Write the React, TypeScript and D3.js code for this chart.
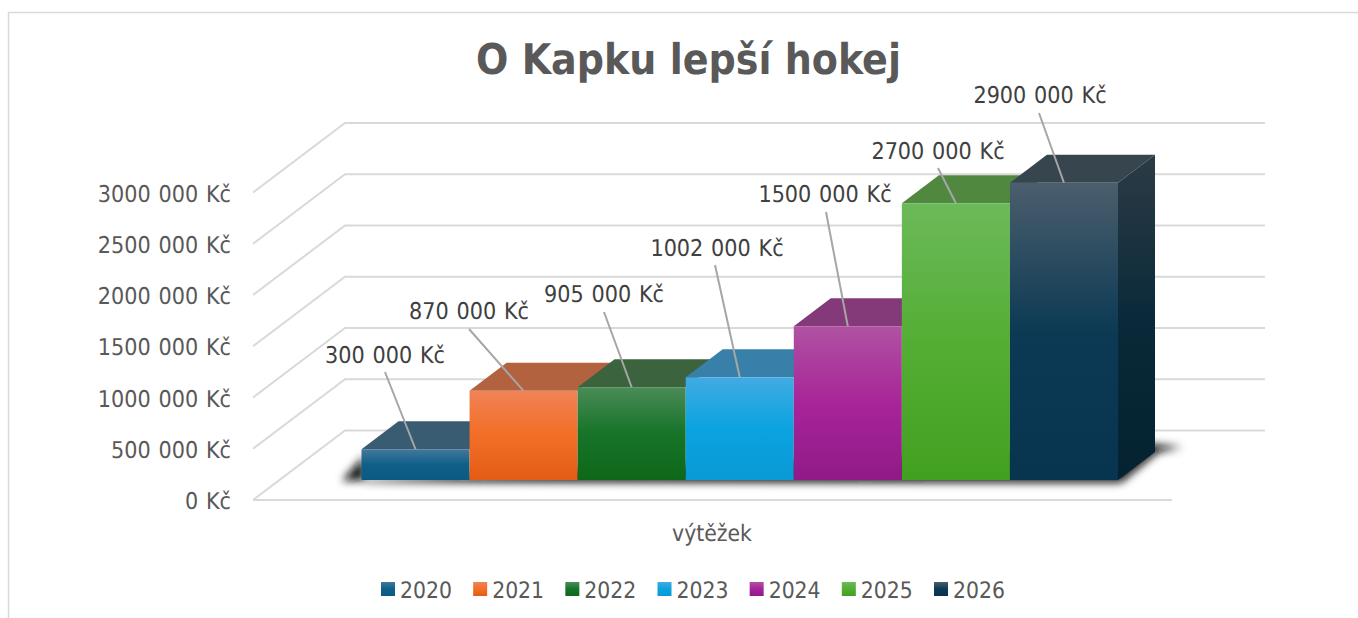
import React from "react";
import * as d3 from "d3";

const years = ["2020", "2021", "2022", "2023", "2024", "2025", "2026"];
const values = [300000, 870000, 905000, 1002000, 1500000, 2700000, 2900000];
const ticks = [0, 500000, 1000000, 1500000, 2000000, 2500000, 3000000];
const labelCenterX = [385, 469, 604, 717, 825, 938, 1040];
const labelBaseline = [363, 319, 302, 256, 202, 159, 103];
const leaderStart: [number, number][] = [[385, 372], [469, 329], [604, 312], [715, 265], [826, 212], [938, 168], [1039, 113]];
const faceTop = ["#3a5c72", "#b3623f", "#3b643e", "#3880aa", "#843a78", "#508840", "#37454f"];
const frontA = ["#43789a", "#f08356", "#4b8b57", "#42abe2", "#b052a2", "#6cb95a", "#4b5e6d"];
const frontB = ["#0f5f8a", "#f36e26", "#167428", "#0aa3e0", "#a82498", "#54ae34", "#0c3a54"];
const frontC = ["#0a5a82", "#e25c16", "#0f681a", "#0a9ad6", "#8f1a88", "#42a020", "#073550"];

const FONT = "'DejaVu Sans Condensed', 'DejaVu Sans', sans-serif";
const fmt = (v: number) => {
  if (v === 0) return "0 Kč";
  const m = Math.floor(v / 1000);
  const r = Math.round(v % 1000);
  return `${m} ${String(r).padStart(3, "0")} Kč`;
};

export default function App() {
  const frontY = d3.scaleLinear().domain([0, 3000000]).range([500, 192.5]);
  const backY = d3.scaleLinear().domain([0, 3000000]).range([430.5, 123]);
  const barY = d3.scaleLinear().domain([0, 3000000]).range([480, 172.5]);
  const x = d3.scaleBand<string>().domain(years).range([361.5, 1118]).padding(0);
  const dx = 37;
  const dy = 28;
  const w = x.bandwidth();
  const line = d3.line();
  const base = barY(0);
  const lastX = (x(years[6]) as number) + w;
  const topLast = barY(values[6]);
  return (
    <svg width={1358} height={618} style={{ position: "absolute", left: 0, top: 0, background: "#fff", fontStretch: "condensed", textRendering: "geometricPrecision" }} fontFamily={FONT}>
      <defs>
        <filter id="blur" x="-10%" y="-100%" width="120%" height="300%"><feGaussianBlur stdDeviation="4" /></filter>
        {years.map((y, i) => (
          <linearGradient key={y} id={`f${i}`} x1="0" y1="0" x2="0" y2="1">
            <stop offset="0" stopColor={frontA[i]} />
            <stop offset="0.5" stopColor={frontB[i]} />
            <stop offset="1" stopColor={frontC[i]} />
          </linearGradient>
        ))}
        <linearGradient id="side" x1="0" y1="0" x2="0" y2="1">
          <stop offset="0" stopColor="#2c3b46" />
          <stop offset="0.5" stopColor="#0a2a39" />
          <stop offset="1" stopColor="#04222f" />
        </linearGradient>
      </defs>
      <path d="M8.5 618V12.5H1358" fill="none" stroke="#d9d9d9" strokeWidth={1.5} />
      <text x={688.5} y={74} textAnchor="middle" fontSize={42.3} fontWeight={700} fill="#595959">O Kapku lepší hokej</text>

      {ticks.map((t) => (
        <path key={t} fill="none" stroke="#d9d9d9" strokeWidth={2}
          d={line([[253, frontY(t)], [345, backY(t)], [1265, backY(t)]]) as string} />
      ))}
      <path d={line([[253, frontY(0)], [1172, frontY(0)]]) as string} stroke="#d9d9d9" strokeWidth={2} fill="none" />
      {ticks.map((t) => (
        <text key={t} x={231} y={frontY(t) + 9} textAnchor="end" fontSize={23.1} wordSpacing={1.2} fill="#595959">{fmt(t)}</text>
      ))}

      <path filter="url(#blur)" fill="#111"
        d={line([[342, base + 1], [364, base - 24], [364, base + 2], [lastX + 3, base + 2.5], [lastX + 40, base - 28], [lastX + 64, base - 33], [lastX + 30, base - 36]]) as string + "Z"} />

      {years.map((y, i) => {
        const x0 = x(y) as number;
        const top = barY(values[i]);
        return (
          <g key={y}>
            <path fill={faceTop[i]} d={line([[x0, top], [x0 + dx, top - dy], [x0 + w + dx, top - dy], [x0 + w, top]]) as string + "Z"} />
            <rect x={x0} y={top} width={w} height={base - top} fill={`url(#f${i})`} />
          </g>
        );
      })}
      <path fill="url(#side)" d={line([[lastX, topLast], [lastX + dx, topLast - dy], [lastX + dx, base - dy], [lastX, base]]) as string + "Z"} />

      {years.map((y, i) => {
        const cx = (x(y) as number) + w / 2;
        return (
          <g key={y}>
            <path d={line([leaderStart[i], [cx, barY(values[i])]]) as string} stroke="#a6a6a6" strokeWidth={2} fill="none" />
            <text x={labelCenterX[i]} y={labelBaseline[i]} textAnchor="middle" fontSize={23.1} wordSpacing={1.2} fill="#404040">{fmt(values[i])}</text>
          </g>
        );
      })}

      <text x={712} y={541} textAnchor="middle" fontSize={22.7} fill="#595959">výtěžek</text>

      {years.map((y, i) => {
        const lx = d3.scaleLinear().domain([0, 6]).range([381, 934])(i);
        return (
          <g key={y}>
            <rect x={lx} y={582} width={14} height={14} fill={`url(#f${i})`} />
            <text x={lx + 19} y={598} fontSize={22.7} fill="#595959">{y}</text>
          </g>
        );
      })}
    </svg>
  );
}
